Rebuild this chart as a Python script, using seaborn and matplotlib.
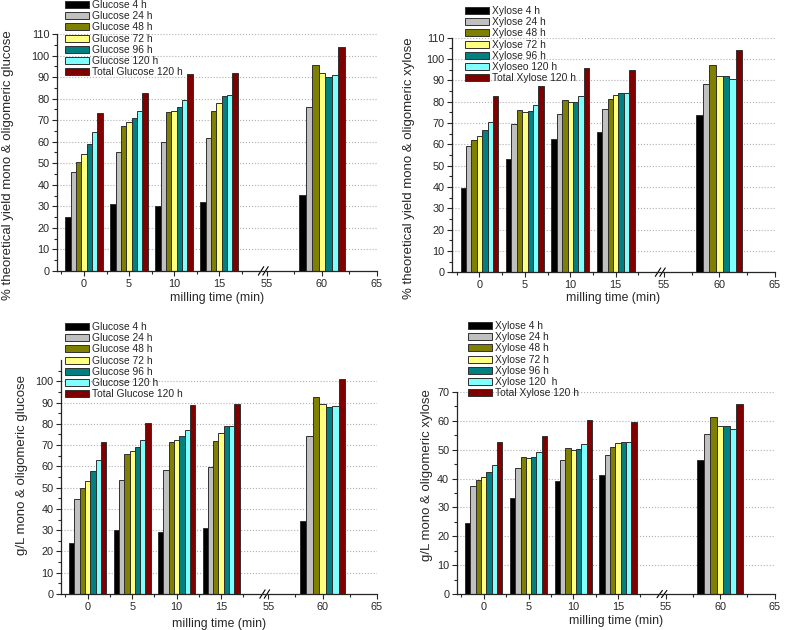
import numpy as np
import pandas as pd
import matplotlib
matplotlib.use('Agg')
import matplotlib.pyplot as plt
import matplotlib.transforms as mtransforms
import seaborn as sns

# datos
tiempos = [0, 5, 10, 15, 60]
colores = ['#000000', '#c0c0c0', '#808000', '#ffff80', '#008080', '#80ffff', '#800000']

glu_labels = ['Glucose 4 h', 'Glucose 24 h', 'Glucose 48 h', 'Glucose 72 h',
              'Glucose 96 h', 'Glucose 120 h', 'Total Glucose 120 h']
xyl_labels_pct = ['Xylose 4 h', 'Xylose 24 h', 'Xylose 48 h', 'Xylose 72 h',
                  'Xylose 96 h', 'Xyloseo 120 h', 'Total Xylose 120 h']
xyl_labels_gl = ['Xylose 4 h', 'Xylose 24 h', 'Xylose 48 h', 'Xylose 72 h',
                 'Xylose 96 h', 'Xylose 120  h', 'Total Xylose 120 h']

# filas = series (4 h ... total), columnas = tiempos de molienda
glu_pct = [[25.0, 31.0, 30.0, 32.0, 35.2],
           [45.7, 55.1, 59.8, 61.6, 76.3],
           [50.6, 67.5, 73.6, 74.2, 95.4],
           [54.2, 69.1, 74.4, 78.1, 91.8],
           [58.8, 71.1, 76.3, 81.2, 89.9],
           [64.4, 74.4, 79.4, 81.6, 91.0],
           [73.1, 82.6, 91.6, 91.8, 104.0]]
xyl_pct = [[39.4, 53.2, 62.5, 65.9, 73.9],
           [59.2, 69.5, 74.2, 76.4, 88.1],
           [62.2, 76.0, 80.7, 81.1, 97.4],
           [63.7, 75.2, 79.7, 83.1, 92.3],
           [66.8, 75.5, 79.8, 83.9, 92.2],
           [70.5, 78.4, 82.7, 84.2, 90.8],
           [82.7, 87.3, 95.9, 95.0, 104.5]]
glu_gl = [[24.0, 30.1, 29.0, 30.9, 34.4],
          [44.7, 53.8, 58.2, 59.8, 74.3],
          [49.6, 65.7, 71.5, 71.9, 92.6],
          [53.2, 67.2, 72.2, 75.8, 89.2],
          [57.6, 69.1, 74.1, 79.0, 88.0],
          [63.0, 72.2, 77.1, 79.1, 88.5],
          [71.6, 80.2, 88.9, 89.2, 101.0]]
xyl_gl = [[24.7, 33.4, 39.2, 41.2, 46.4],
          [37.6, 43.6, 46.6, 48.1, 55.4],
          [39.6, 47.6, 50.7, 51.0, 61.2],
          [40.5, 47.1, 49.9, 52.3, 58.1],
          [42.4, 47.4, 50.1, 52.6, 58.1],
          [44.7, 49.2, 51.9, 52.8, 57.2],
          [52.5, 54.9, 60.3, 59.7, 65.8]]

ejes_ticks = [0, 5, 10, 15, 55, 60, 65]
ejes_minor = [-2.5, 2.5, 7.5, 12.5, 17.5, 57.5, 62.5]


def axis_pos(t):
    # eje x partido: 0-15 normal, 55-65 comprimido despues del corte
    t = np.asarray(t, dtype=float)
    return np.where(t <= 20, t, 20.3 + (t - 55) * 1.22)


def tabla(valores, labels):
    filas = []
    for lab, serie in zip(labels, valores):
        for t, v in zip(tiempos, serie):
            filas.append({'t': t, 'serie': lab, 'valor': v})
    df = pd.DataFrame(filas)
    df['pos'] = axis_pos(df['t'])
    return df


sns.set_style('ticks')
plt.rcParams['font.family'] = ['Liberation Sans', 'DejaVu Sans']

fig = plt.figure(figsize=(7.85, 6.3), dpi=100)
paneles = [
    # valores, etiquetas, ylabel, rect, ylim, yticks max, legend anchor, ylabel xy, xlabel y
    (glu_pct, glu_labels, '% theoretical yield mono & oligomeric glucose',
     [0.0726, 0.570, 0.4074, 0.376], 110, 110, (65 / 785, 1 - 0 / 630), (-0.135, 0.445), -0.09),
    (xyl_pct, xyl_labels_pct, '% theoretical yield mono & oligomeric xylose',
     [0.576, 0.568, 0.411, 0.372], 110, 110, (465 / 785, 1 - 6 / 630), (-0.115, 0.445), -0.085),
    (glu_gl, glu_labels, 'g/L mono & oligomeric glucose',
     [0.0777, 0.0571, 0.4023, 0.3715], 110, 100, (65 / 785, 1 - 322 / 630), (-0.105, 0.55), -0.103),
    (xyl_gl, xyl_labels_gl, 'g/L mono & oligomeric xylose',
     [0.582, 0.0571, 0.405, 0.3207], 70, 70, (468 / 785, 1 - 321 / 630), (-0.076, 0.59), -0.104),
]

for valores, labels, ylab, rect, ytop, ymax_tick, anchor, ylxy, xly in paneles:
    ax = fig.add_axes(rect)
    df = tabla(valores, labels)
    pal = dict(zip(labels, colores))
    kw = dict(x='pos', y='valor', hue='serie', hue_order=labels, palette=pal,
              native_scale=True, errorbar=None, saturation=1,
              edgecolor='#303030', linewidth=0.7, ax=ax)
    sns.barplot(data=df[df['t'] <= 15], width=0.83, **kw)
    sns.barplot(data=df[df['t'] == 60], width=4.15 * 1.22, legend=False, **kw)

    ax.set_xlim(-3, float(axis_pos(65)))
    ax.set_ylim(0, ytop)
    ax.set_xticks(axis_pos(ejes_ticks))
    ax.set_xticklabels([str(t) for t in ejes_ticks])
    ax.set_xticks(axis_pos(ejes_minor), minor=True)
    ax.set_yticks(np.arange(0, ymax_tick + 1, 10))
    ax.set_yticks(np.arange(5, ytop, 10), minor=True)
    ax.tick_params(axis='both', which='major', labelsize=7.8, length=3.5, width=0.8,
                   direction='out', pad=2)
    ax.tick_params(axis='both', which='minor', length=2, width=0.8, direction='out')
    ax.grid(axis='y', which='major', linestyle=':', color='#b0b0b0', linewidth=0.8)
    ax.set_axisbelow(True)
    for s in ['top', 'right']:
        ax.spines[s].set_visible(False)
    for s in ['left', 'bottom']:
        ax.spines[s].set_linewidth(0.9)

    ax.set_xlabel('milling time (min)', fontsize=8.8)
    ax.set_ylabel(ylab, fontsize=9.5)
    ax.xaxis.set_label_coords(0.5, xly)
    ax.yaxis.set_label_coords(*ylxy)

    # marcas de corte del eje
    trans = mtransforms.blended_transform_factory(ax.transData, ax.transAxes)
    xc = float(axis_pos(55))
    for dx in (-0.65, -0.15):
        ax.plot([xc + dx - 0.3, xc + dx + 0.3], [-0.018, 0.018], color='black',
                linewidth=0.8, transform=trans, clip_on=False)

    sns.move_legend(ax, 'upper left', bbox_to_anchor=anchor, bbox_transform=fig.transFigure,
                    frameon=False, title=None, fontsize=7.4, borderaxespad=0, borderpad=0,
                    labelspacing=0.12, handlelength=2.3, handleheight=0.7,
                    handletextpad=0.3)

fig.savefig('out.png', dpi=100)
